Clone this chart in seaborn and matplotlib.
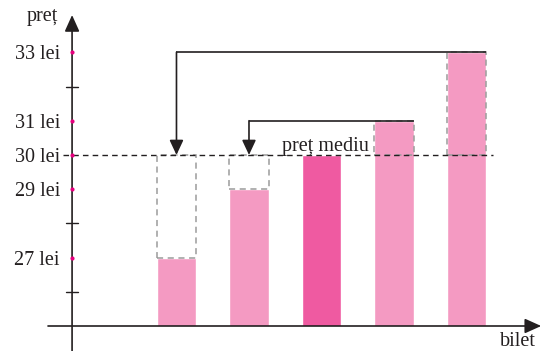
import matplotlib
matplotlib.use("Agg")
import matplotlib.pyplot as plt
import matplotlib.transforms as mtransforms
import numpy as np
import pandas as pd
import seaborn as sns

sns.set_style("white")
plt.rcParams['font.family'] = ['Liberation Serif', 'DejaVu Serif']

# data
bilete = ["1", "2", "3", "4", "5"]
preturi = [27, 29, 30, 31, 33]
pret_mediu = 30
culori = ["#F49AC2", "#F49AC2", "#EF5AA1", "#F49AC2", "#F49AC2"]
tick_valori = [27, 29, 30, 31, 33]
tick_etichete = ["27 lei", "29 lei", "30 lei", "31 lei", "33 lei"]
minor_valori = [26, 28, 32]

df = pd.DataFrame({"bilet": bilete, "pret": preturi})

ink = "#231F20"
bar_w = 0.54

fig = plt.figure(figsize=(5.43, 3.51), dpi=100)
# axes bottom sits on the x axis line (the value axis starts at 25 lei)
ax = fig.add_axes([0, 25 / 351, 1, 326 / 351])
sns.barplot(data=df, x="bilet", y="pret", hue="bilet", palette=culori,
            width=bar_w, saturation=1, legend=False, ax=ax, zorder=2)
ax.set_axis_off()
ax.set_xlim(-2.434, 5.055)
ax.set_ylim(25, 34.53)

x_axis_pos = -1.44
y_base = 25

# gray dashed outlines showing the difference to the mean
for i, v in enumerate(preturi):
    if v == pret_mediu:
        continue
    ax.bar(i, abs(v - pret_mediu), bottom=min(v, pret_mediu), width=bar_w,
           fill=False, edgecolor="#9B9B9B", linestyle=(0, (4, 3)), linewidth=1.1, zorder=3)

# mean line
ax.plot([-1.565, 4.366], [pret_mediu, pret_mediu], color=ink, lw=1.0,
        linestyle=(0, (4, 3)), zorder=4)
ax.text(2.05, pret_mediu + 0.12, "preț mediu", ha="center", va="baseline",
        fontsize=14.5, color=ink, zorder=5)

# arrows moving the surplus to the smaller bars
pairs = [(4, 0), (3, 1)]
for src, dst in pairs:
    top = preturi[src]
    ax.plot([src + bar_w / 2, dst], [top, top], color=ink, lw=1.2, zorder=5,
            solid_capstyle="butt")
    ax.annotate("", xy=(dst, pret_mediu), xytext=(dst, top),
                arrowprops=dict(arrowstyle="-|>,head_length=0.9,head_width=0.42",
                                color=ink, lw=1.2, shrinkA=0, shrinkB=0),
                zorder=6)

# axes with arrows
ax.annotate("", xy=(x_axis_pos, 34.09), xytext=(x_axis_pos, 24.27),
            arrowprops=dict(arrowstyle="-|>,head_length=1.0,head_width=0.45",
                            color=ink, lw=1.2, shrinkA=0, shrinkB=0),
            annotation_clip=False, zorder=6)
ax.annotate("", xy=(5.03, y_base), xytext=(-1.772, y_base),
            arrowprops=dict(arrowstyle="-|>,head_length=1.0,head_width=0.45",
                            color=ink, lw=1.2, shrinkA=0, shrinkB=0),
            annotation_clip=False, zorder=6)

# tick marks
for v in minor_valori:
    ax.plot([x_axis_pos - 0.08, x_axis_pos + 0.08], [v, v], color=ink, lw=1.0, zorder=6)
ax.scatter([x_axis_pos] * len(tick_valori), tick_valori, s=9, color="#E6007E",
           zorder=7, linewidths=0)

trans = mtransforms.blended_transform_factory(fig.transFigure, ax.transData)
for v, lab in zip(tick_valori, tick_etichete):
    ax.text(60 / 543, v, lab, transform=trans, ha="right", va="center_baseline",
            fontsize=14.5, color=ink)

fig.text(58 / 543, 1 - 21 / 351, "preț", ha="right", va="baseline",
         fontsize=14.5, color=ink)
fig.text(536 / 543, 1 - 346 / 351, "bilet", ha="right", va="baseline",
         fontsize=14.5, color=ink)

fig.savefig("out.png", dpi=100)
